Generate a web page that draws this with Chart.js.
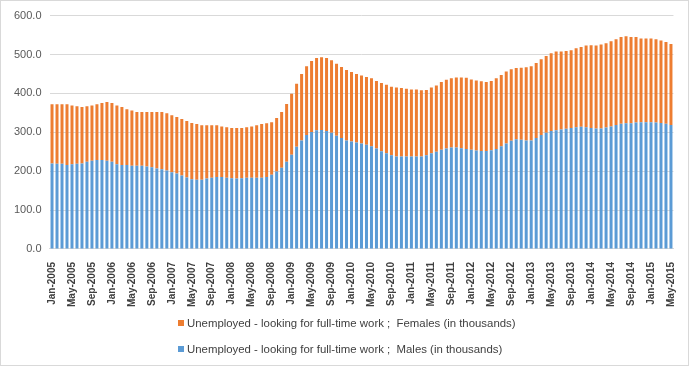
<!DOCTYPE html>
<html>
<head>
<meta charset="utf-8">
<script src="https://cdn.jsdelivr.net/npm/chart.js@4"></script>
<style>
  html, body { margin: 0; padding: 0; background: #fff; }
  #wrap {
    position: relative; width: 689px; height: 366px;
    box-sizing: border-box; border: 1px solid #d9d9d9;
  }
  #chart { position: absolute; left: 0; top: 0; }
  .legend {
    position: absolute; left: 177px;
    font-family: "Liberation Sans", Arial, sans-serif;
    font-size: 11.4px; color: #404040; white-space: pre;
  }
  .legend i {
    display: inline-block; width: 6px; height: 6px; margin-right: 3px;
    vertical-align: 1px;
  }
</style>
</head>
<body>
<div id="wrap">
  <canvas id="chart" width="687" height="364"></canvas>
  <div class="legend" style="top:316px"><i style="background:#ED7D31"></i>Unemployed - looking for full-time work ;  Females (in thousands)</div>
  <div class="legend" style="top:342px"><i style="background:#5B9BD5"></i>Unemployed - looking for full-time work ;  Males (in thousands)</div>
</div>
<script>
const monthNames = ['Jan','Feb','Mar','Apr','May','Jun','Jul','Aug','Sep','Oct','Nov','Dec'];
const months = [];
for (let y = 2005; y <= 2015; y++) {
  for (let m = 0; m < 12; m++) {
    if (y === 2015 && m > 4) break;
    months.push(monthNames[m] + '-' + y);
  }
}

// males (thousands), Jan-2005 .. May-2015
const males = [
  220,219,219,216,218,219,220,224,227,229,229,227,
  224,218,216,216,214,214,214,212,210,207,205,202,
  197,194,189,184,179,178,178,181,183,185,185,183,
  182,181,182,183,183,183,183,185,191,199,209,224,
  242,263,279,293,301,305,306,303,299,291,285,279,
  276,274,271,268,264,258,251,246,241,238,238,238,
  238,238,238,241,246,250,255,258,261,261,259,257,
  255,253,252,252,254,257,264,271,278,282,281,279,
  279,285,293,299,303,305,307,309,311,313,314,313,
  311,310,310,312,315,319,322,323,323,325,326,326,
  326,325,324,322,319
];

// females (thousands), Jan-2005 .. May-2015
const females = [
  152,153,153,156,151,148,145,143,142,143,146,151,
  151,151,149,143,142,138,138,140,142,145,147,147,
  147,145,145,145,145,143,140,137,135,133,130,130,
  129,130,129,130,132,135,138,138,135,138,143,149,
  157,162,171,177,182,186,187,188,186,185,183,181,
  179,176,175,174,175,174,176,176,176,177,176,174,
  172,172,170,168,169,170,174,177,178,180,182,183,
  181,180,179,177,178,182,183,185,184,183,185,188,
  191,193,195,197,200,203,201,200,200,203,205,210,
  213,213,216,217,219,220,223,224,222,220,215,215,
  215,214,212,210,208
];

const yTicks = [0, 100, 200, 300, 400, 500, 600];

const tickFont = '"Liberation Sans", Arial, sans-serif';

new Chart(document.getElementById('chart'), {
  type: 'bar',
  data: {
    labels: months,
    datasets: [
      {
        label: 'Unemployed - looking for full-time work ;  Males (in thousands)',
        data: males,
        backgroundColor: '#5B9BD5',
        categoryPercentage: 1.0,
        barPercentage: 0.6
      },
      {
        label: 'Unemployed - looking for full-time work ;  Females (in thousands)',
        data: females,
        backgroundColor: '#ED7D31',
        categoryPercentage: 1.0,
        barPercentage: 0.6
      }
    ]
  },
  options: {
    responsive: false,
    animation: false,
    layout: { padding: { top: 5, left: 5, right: 10, bottom: 53 } },
    plugins: {
      legend: { display: false },
      tooltip: { enabled: false }
    },
    scales: {
      x: {
        stacked: true,
        grid: { display: false },
        border: { color: '#d9d9d9' },
        ticks: {
          autoSkip: false,
          maxRotation: 90,
          minRotation: 90,
          padding: 5,
          color: '#404040',
          font: { family: tickFont, size: 10, weight: 'bold' },
          callback: function (val, idx) {
            return idx % 4 === 0 ? months[idx] : '';
          }
        }
      },
      y: {
        stacked: true,
        min: yTicks[0],
        max: yTicks[yTicks.length - 1],
        afterBuildTicks: function (axis) {
          axis.ticks = yTicks.map(v => ({ value: v }));
        },
        grid: { color: '#d9d9d9', drawTicks: false },
        border: { display: false },
        ticks: {
          padding: 8,
          color: '#595959',
          font: { family: tickFont, size: 11 },
          callback: v => v.toFixed(1)
        }
      }
    }
  }
});
</script>
</body>
</html>
